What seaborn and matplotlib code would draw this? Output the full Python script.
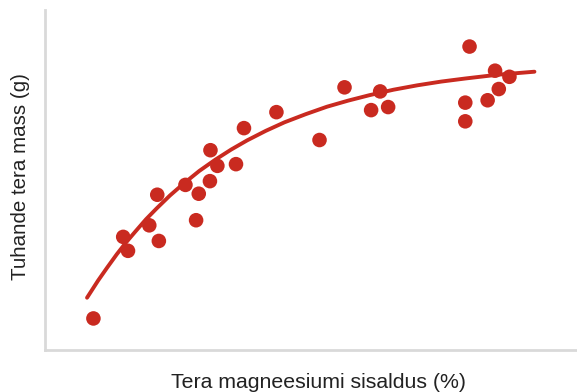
import numpy as np
import pandas as pd
import seaborn as sns
import matplotlib.pyplot as plt

# magnesium content (arbitrary units, no tick labels shown) and grain mass
mg_content = [0.91, 1.47, 1.56, 1.96, 2.11, 2.14, 2.64, 2.84, 2.89, 3.11, 3.10, 3.24,
              3.59, 3.74, 4.35, 5.16, 5.63, 6.13, 6.30, 6.45, 7.90, 7.90, 7.98,
              8.32, 8.46, 8.53, 8.73]
grain_mass = [0.93, 3.33, 2.92, 3.67, 4.57, 3.21, 4.86, 3.82, 4.60, 5.88, 4.97, 5.42,
              5.47, 6.53, 7.00, 6.18, 7.73, 7.06, 7.61, 7.15, 7.28, 6.73, 8.93,
              7.35, 8.22, 7.68, 8.04]

# trend curve
curve_x = [0.79, 1.00, 1.17, 1.35, 1.52, 1.70, 1.90, 2.10, 2.35, 2.60, 2.90,
           3.20, 3.50, 3.80, 4.15, 4.50, 4.90, 5.30, 5.70, 6.10, 6.55, 7.00,
           7.45, 7.90, 8.50, 9.20]
curve_y = [1.54, 2.05, 2.43, 2.82, 3.16, 3.49, 3.85, 4.17, 4.55, 4.89, 5.27,
           5.60, 5.90, 6.17, 6.45, 6.70, 6.94, 7.16, 7.34, 7.50, 7.66, 7.79,
           7.90, 7.99, 8.10, 8.19]

df = pd.DataFrame({"mg": mg_content, "mass": grain_mass})
curve = pd.DataFrame({"x": curve_x, "y": curve_y})

red = "#c92a20"

sns.set_style("white")
plt.rcParams["font.family"] = ["Liberation Sans", "DejaVu Sans"]

fig = plt.figure(figsize=(5.77, 3.92), dpi=100)
ax = fig.add_axes([0.078, 0.107, 0.922, 0.867])

sns.lineplot(data=curve, x="x", y="y", color=red, linewidth=2.8, sort=False, ax=ax)
sns.scatterplot(data=df, x="mg", y="mass", color=red, s=110, edgecolor="none", ax=ax, zorder=3)

ax.set_xlim(0, 10)
ax.set_ylim(0, 10)
ax.set_xticks([])
ax.set_yticks([])
for side in ["top", "right"]:
    ax.spines[side].set_visible(False)
for side in ["left", "bottom"]:
    ax.spines[side].set_color("#d9d9d9")
    ax.spines[side].set_linewidth(2)

ax.set_xlabel("Tera magneesiumi sisaldus (%)", fontsize=15.3, color="#222222")
ax.set_ylabel("Tuhande tera mass (g)", fontsize=14.8, color="#222222")
ax.xaxis.set_label_coords(0.514, -0.068)
ax.yaxis.set_label_coords(-0.029, 0.51)

fig.savefig("out.png", dpi=100)
